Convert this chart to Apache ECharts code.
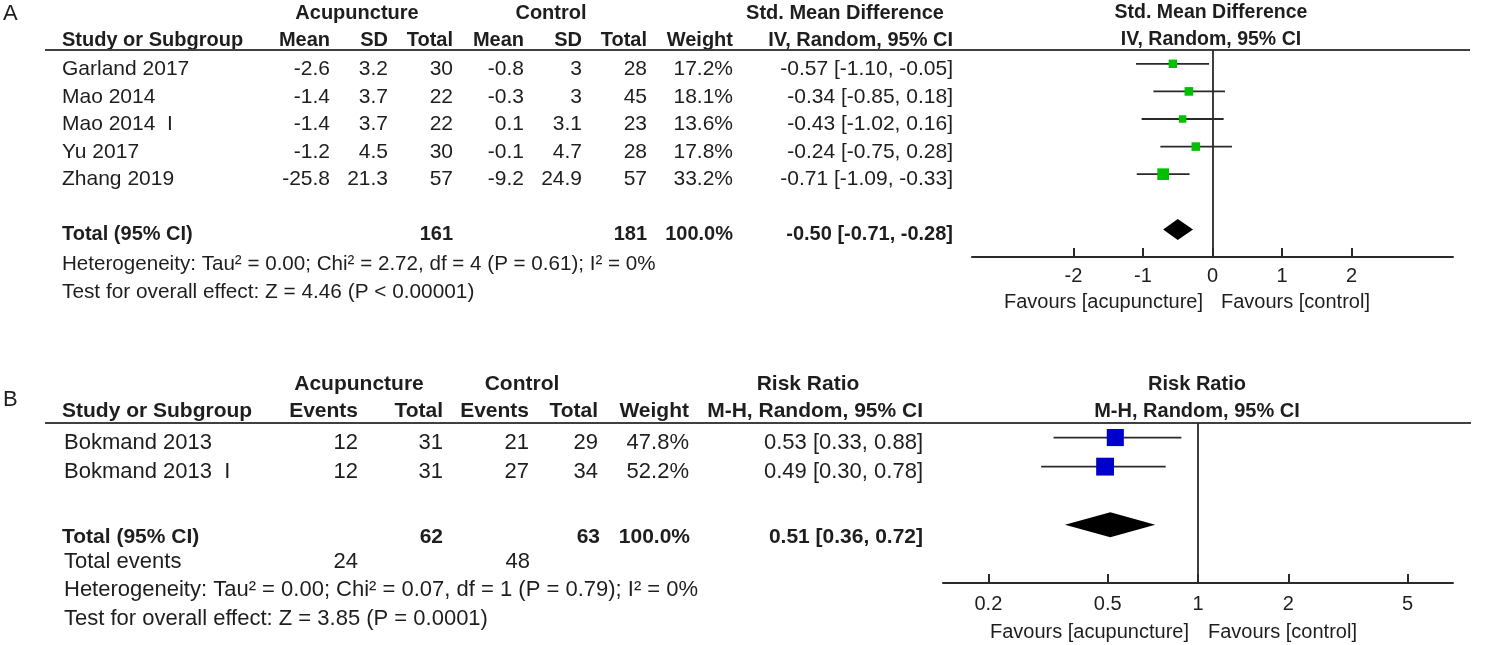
<!DOCTYPE html>
<html>
<head>
<meta charset="utf-8">
<script src="https://cdn.jsdelivr.net/npm/echarts@6/dist/echarts.min.js"></script>
<style>
html,body{margin:0;padding:0;background:#fff;}
#c{width:1506px;height:645px;}
</style>
</head>
<body>
<div id="c"></div>
<script>
// ---------- Panel A data ----------
const studiesA = ['Garland 2017', 'Mao 2014', 'Mao 2014  I', 'Yu 2017', 'Zhang 2019'];
const acuMeanA = [-2.6, -1.4, -1.4, -1.2, -25.8];
const acuSdA = [3.2, 3.7, 3.7, 4.5, 21.3];
const acuTotalA = [30, 22, 22, 30, 57];
const ctlMeanA = [-0.8, -0.3, 0.1, -0.1, -9.2];
const ctlSdA = [3, 3, 3.1, 4.7, 24.9];
const ctlTotalA = [28, 45, 23, 28, 57];
const weightA = [17.2, 18.1, 13.6, 17.8, 33.2];
const smdA = [-0.57, -0.34, -0.43, -0.24, -0.71];
const loA = [-1.10, -0.85, -1.02, -0.75, -1.09];
const hiA = [-0.05, 0.18, 0.16, 0.28, -0.33];
const totalA = { acu: 161, ctl: 181, weight: 100.0, est: -0.50, lo: -0.71, hi: -0.28 };
const hetA = 'Heterogeneity: Tau\u00b2 = 0.00; Chi\u00b2 = 2.72, df = 4 (P = 0.61); I\u00b2 = 0%';
const testA = 'Test for overall effect: Z = 4.46 (P < 0.00001)';
const ticksA = [-2, -1, 0, 1, 2];
const headersA = ['Study or Subgroup', 'Mean', 'SD', 'Total', 'Mean', 'SD', 'Total', 'Weight', 'IV, Random, 95% CI'];

// ---------- Panel B data ----------
const studiesB = ['Bokmand 2013', 'Bokmand 2013  I'];
const acuEventsB = [12, 12];
const acuTotalB = [31, 31];
const ctlEventsB = [21, 27];
const ctlTotalB = [29, 34];
const weightB = [47.8, 52.2];
const rrB = [0.53, 0.49];
const loB = [0.33, 0.30];
const hiB = [0.88, 0.78];
const totalB = { acu: 62, ctl: 63, weight: 100.0, est: 0.51, lo: 0.36, hi: 0.72, acuEvents: 24, ctlEvents: 48 };
const hetB = 'Heterogeneity: Tau\u00b2 = 0.00; Chi\u00b2 = 0.07, df = 1 (P = 0.79); I\u00b2 = 0%';
const testB = 'Test for overall effect: Z = 3.85 (P = 0.0001)';
const ticksB = [0.2, 0.5, 1, 2, 5];
const headersB = ['Study or Subgroup', 'Events', 'Total', 'Events', 'Total', 'Weight', 'M-H, Random, 95% CI'];

// ---------- layout ----------
const FONT = '"Liberation Sans", Arial, Helvetica, sans-serif';
const TXT = '#1e1e1e';
const LINE = '#2a2a2a';

function T(x, y, text, align, bold, size) {
  return {
    type: 'text', x: x, y: y, silent: true,
    style: {
      text: text, x: 0, y: 0,
      fontSize: size || 21, fontWeight: bold ? 'bold' : 'normal', fontFamily: FONT,
      fill: TXT, align: align, verticalAlign: 'middle',
      textAlign: align, textVerticalAlign: 'middle'
    }
  };
}
function f2(v) { return v.toFixed(2); }
function ci(e, l, h) { return f2(e) + ' [' + f2(l) + ', ' + f2(h) + ']'; }
function pct(v) { return v.toFixed(1) + '%'; }

const g = [];
// Panel labels
g.push(T(3, 14, 'A', 'left', false, 22));
g.push(T(3, 400, 'B', 'left', false, 22));

// ---- Panel A table ----
const colA = [62, 330, 388, 453, 524, 582, 647, 733, 953];
const rowYA = [69, 97, 124.5, 152, 179.5];
g.push(T(357, 13, 'Acupuncture', 'center', true, 20));
g.push(T(551, 13, 'Control', 'center', true, 20));
g.push(T(845, 13, 'Std. Mean Difference', 'center', true, 20));
g.push(T(1211, 13, 'Std. Mean Difference', 'center', true, 19.5));
headersA.forEach((h, i) => g.push(T(colA[i], 40, h, i === 0 ? 'left' : 'right', true, 20)));
g.push(T(1211, 40, 'IV, Random, 95% CI', 'center', true, 19.5));
studiesA.forEach((s, i) => {
  const y = rowYA[i];
  const cells = [s, String(acuMeanA[i]), String(acuSdA[i]), String(acuTotalA[i]),
    String(ctlMeanA[i]), String(ctlSdA[i]), String(ctlTotalA[i]), pct(weightA[i]),
    ci(smdA[i], loA[i], hiA[i])];
  cells.forEach((c, j) => g.push(T(colA[j], y, c, j === 0 ? 'left' : 'right', false, 21)));
});
g.push(T(colA[0], 234, 'Total (95% CI)', 'left', true, 20));
g.push(T(colA[3], 234, String(totalA.acu), 'right', true, 20));
g.push(T(colA[6], 234, String(totalA.ctl), 'right', true, 20));
g.push(T(colA[7], 234, pct(totalA.weight), 'right', true, 20));
g.push(T(colA[8], 234, ci(totalA.est, totalA.lo, totalA.hi), 'right', true, 20));
g.push(T(colA[0], 264, hetA, 'left', false, 20.6));
g.push(T(colA[0], 292, testA, 'left', false, 20.8));
g.push({ type: 'line', silent: true, shape: { x1: 45, y1: 50, x2: 1470, y2: 50 }, style: { stroke: '#404040', lineWidth: 2 } });
g.push(T(1203, 302, 'Favours [acupuncture]', 'right', false, 20));
g.push(T(1221, 302, 'Favours [control]', 'left', false, 20));

// ---- Panel B table ----
const colB = [62, 358, 443, 529, 598, 689, 923];
const rowYB = [443, 472];
g.push(T(359, 384, 'Acupuncture', 'center', true, 21));
g.push(T(522, 384, 'Control', 'center', true, 21));
g.push(T(808, 384, 'Risk Ratio', 'center', true, 21));
g.push(T(1197, 384, 'Risk Ratio', 'center', true, 20));
headersB.forEach((h, i) => g.push(T(colB[i], 411, h, i === 0 ? 'left' : 'right', true, 21)));
g.push(T(1197, 411, 'M-H, Random, 95% CI', 'center', true, 20));
studiesB.forEach((s, i) => {
  const y = rowYB[i];
  const cells = [s, String(acuEventsB[i]), String(acuTotalB[i]), String(ctlEventsB[i]),
    String(ctlTotalB[i]), pct(weightB[i]), ci(rrB[i], loB[i], hiB[i])];
  cells.forEach((c, j) => g.push(T(j === 0 ? colB[j] + 2 : colB[j], y, c, j === 0 ? 'left' : 'right', false, 22)));
});
g.push(T(colB[0], 537, 'Total (95% CI)', 'left', true, 21));
g.push(T(colB[2], 537, String(totalB.acu), 'right', true, 21));
g.push(T(colB[4] + 2, 537, String(totalB.ctl), 'right', true, 21));
g.push(T(colB[5] + 1, 537, pct(totalB.weight), 'right', true, 21));
g.push(T(colB[6], 537, ci(totalB.est, totalB.lo, totalB.hi), 'right', true, 21));
g.push(T(colB[0] + 2, 562, 'Total events', 'left', false, 22));
g.push(T(colB[1], 562, String(totalB.acuEvents), 'right', false, 22));
g.push(T(colB[3] + 1, 562, String(totalB.ctlEvents), 'right', false, 22));
g.push(T(colB[0] + 2, 590, hetB, 'left', false, 22));
g.push(T(colB[0] + 2, 619, testB, 'left', false, 22));
g.push({ type: 'line', silent: true, shape: { x1: 45, y1: 423, x2: 1471, y2: 423 }, style: { stroke: '#404040', lineWidth: 2 } });
g.push(T(1189, 632, 'Favours [acupuncture]', 'right', false, 20));
g.push(T(1208, 632, 'Favours [control]', 'left', false, 20));

// ---------- series data ----------
const dataA = studiesA.map((s, i) => [i, smdA[i], loA[i], hiA[i], 2.03 * Math.sqrt(weightA[i])]);
const dataB = studiesB.map((s, i) => [i, rrB[i], loB[i], hiB[i], 2.47 * Math.sqrt(weightB[i])]);
const diaA = [[6, totalA.est, totalA.lo, totalA.hi, 10.5]];
const diaB = [[3, totalB.est, totalB.lo, totalB.hi, 12.5]];

function studyRender(color) {
  return function (params, api) {
    const row = api.value(0), est = api.value(1), lo = api.value(2), hi = api.value(3), sz = api.value(4);
    const pL = api.coord([lo, row]), pH = api.coord([hi, row]), pE = api.coord([est, row]);
    return {
      type: 'group', children: [
        { type: 'line', shape: { x1: pL[0], y1: pL[1], x2: pH[0], y2: pH[1] }, style: { stroke: LINE, lineWidth: 1.8 } },
        { type: 'rect', shape: { x: pE[0] - sz / 2, y: pE[1] - sz / 2, width: sz, height: sz }, style: { fill: color } }
      ]
    };
  };
}
function diamondRender(params, api) {
  const row = api.value(0), est = api.value(1), lo = api.value(2), hi = api.value(3), h = api.value(4);
  const pL = api.coord([lo, row]), pH = api.coord([hi, row]), pE = api.coord([est, row]);
  return {
    type: 'polygon',
    shape: { points: [[pL[0], pL[1]], [pE[0], pE[1] - h], [pH[0], pH[1]], [pE[0], pE[1] + h]] },
    style: { fill: '#000' }
  };
}

function fmtB(v) { return String(v); }

const option = {
  animation: false,
  backgroundColor: '#fff',
  grid: [
    { left: 972, width: 481, top: 50, height: 207, containLabel: false, outerBoundsMode: 'none' },
    { left: 943, width: 510, top: 423, height: 160, containLabel: false, outerBoundsMode: 'none' }
  ],
  xAxis: [
    {
      gridIndex: 0, type: 'value', min: -3.46, max: 3.46, position: 'bottom',
      axisLine: { show: true, onZero: false, lineStyle: { color: LINE, width: 2 } },
      axisTick: { show: true, inside: true, length: 9, lineStyle: { color: LINE, width: 2 }, customValues: ticksA },
      axisLabel: { show: true, margin: 9, fontSize: 20, fontFamily: FONT, color: TXT, customValues: ticksA, showMinLabel: true, showMaxLabel: true },
      splitLine: { show: false }
    },
    {
      gridIndex: 1, type: 'log', logBase: 10, min: 0.1412, max: 7.08, position: 'bottom',
      axisLine: { show: true, onZero: false, lineStyle: { color: LINE, width: 2 } },
      axisTick: { show: true, inside: true, length: 9, lineStyle: { color: LINE, width: 2 }, customValues: ticksB },
      axisLabel: { show: true, margin: 11, fontSize: 20, fontFamily: FONT, color: TXT, customValues: ticksB, formatter: fmtB },
      splitLine: { show: false }, minorTick: { show: false }
    }
  ],
  yAxis: [
    { gridIndex: 0, type: 'value', min: -0.5, max: 7, inverse: true, show: false, splitLine: { show: false } },
    { gridIndex: 1, type: 'value', min: -0.5, max: 5, inverse: true, show: false, splitLine: { show: false } }
  ],
  series: [
    {
      type: 'custom', xAxisIndex: 0, yAxisIndex: 0, data: dataA, renderItem: studyRender('#00C000'),
      encode: { x: [1, 2, 3], y: 0 }, silent: true,
      markLine: {
        silent: true, symbol: 'none', label: { show: false },
        lineStyle: { color: LINE, width: 1.8, type: 'solid' },
        data: [{ xAxis: 0 }]
      }
    },
    { type: 'custom', xAxisIndex: 0, yAxisIndex: 0, data: diaA, renderItem: diamondRender, encode: { x: [1, 2, 3], y: 0 }, silent: true },
    {
      type: 'custom', xAxisIndex: 1, yAxisIndex: 1, data: dataB, renderItem: studyRender('#0000CC'),
      encode: { x: [1, 2, 3], y: 0 }, silent: true,
      markLine: {
        silent: true, symbol: 'none', label: { show: false },
        lineStyle: { color: LINE, width: 1.8, type: 'solid' },
        data: [{ xAxis: 1 }]
      }
    },
    { type: 'custom', xAxisIndex: 1, yAxisIndex: 1, data: diaB, renderItem: diamondRender, encode: { x: [1, 2, 3], y: 0 }, silent: true }
  ],
  graphic: g
};

const chart = echarts.init(document.getElementById('c'), null, { renderer: 'canvas' });
chart.setOption(option);
</script>
</body>
</html>
